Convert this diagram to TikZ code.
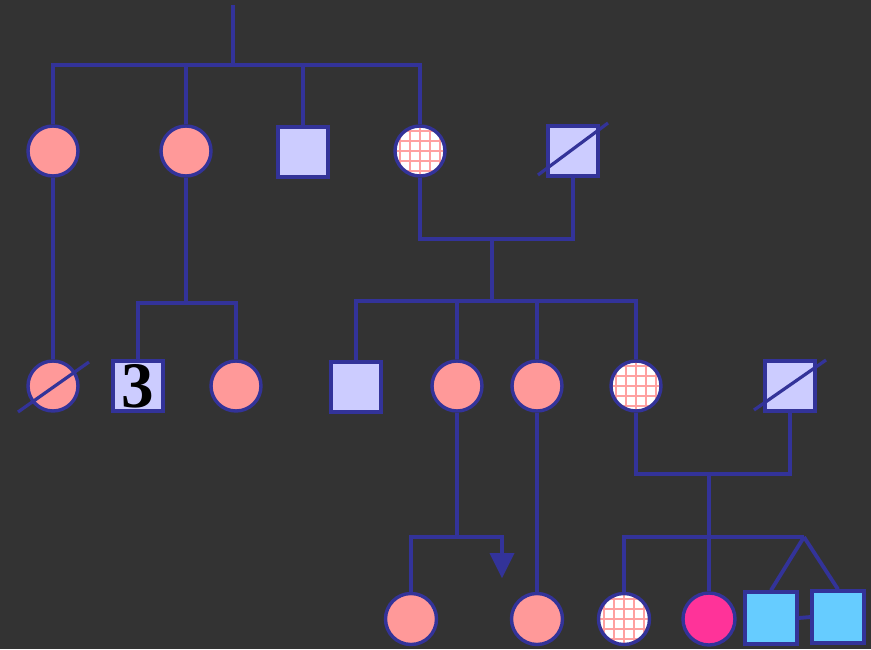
\documentclass[tikz,border=0pt]{standalone}
\usepackage{fontspec}
\setmainfont{Liberation Serif}
\usetikzlibrary{calc}
\definecolor{bg}{HTML}{333333}
\definecolor{ln}{HTML}{333399}
\definecolor{pinkf}{HTML}{FF9999}
\definecolor{lav}{HTML}{CCCCFF}
\definecolor{hot}{HTML}{FF3399}
\definecolor{sky}{HTML}{66CCFF}
\definecolor{gridc}{HTML}{FFA0A0}
\begin{document}
\begin{tikzpicture}[x=1pt,y=-1pt,
  female/.style={circle,draw=ln,line width=3.4pt,fill=pinkf,minimum size=50pt,inner sep=0pt},
  male/.style={rectangle,draw=ln,line width=3.4pt,fill=lav,minimum size=50pt,inner sep=0pt},
  hatch/.style={fill=white,path picture={\draw[gridc,line width=2.8pt]
      ($(path picture bounding box.south west)+(-3,3)$) grid[step=10pt] (path picture bounding box.north east);}},
  conn/.style={draw=ln,line width=3.8pt},
  slash/.style={draw=ln,line width=3.2pt}]
\useasboundingbox (0,0) rectangle (871,649);
\fill[bg] (0,0) rectangle (871,649);

% generation 1
\node[female] (A) at (53,151) {};
\node[female] (B) at (186,151) {};
\node[male] (C) at (303,152) {};
\node[female,hatch] (D) at (420,151) {};
\node[male] (E) at (573,151) {};

% generation 2
\node[female] (F) at (53,386) {};
\node[male,font=\fontsize{65}{65}\selectfont\bfseries] (G) at (138,386) {\raisebox{-2pt}{3}};
\node[female] (H) at (236,386) {};
\node[male] (I) at (356,387) {};
\node[female] (J) at (457,386) {};
\node[female] (K) at (537,386) {};
\node[female,hatch] (L) at (636,386) {};
\node[male] (M) at (790,386) {};

% generation 3
\node[female,minimum size=51pt] (N) at (411,619) {};
\node[female,minimum size=51pt] (O) at (537,619) {};
\node[female,hatch,minimum size=51pt] (P) at (624,619) {};
\node[female,fill=hot,minimum size=52pt] (Q) at (709,619) {};
\node[male,fill=sky,minimum size=52pt] (R) at (771,618) {};
\node[male,fill=sky,minimum size=52pt] (S) at (838,617) {};

% coordinates
\coordinate (top) at (233,5);
\coordinate (s1) at (233,65);
\coordinate (bj) at (186,303);
\coordinate (m1) at (492,239);
\coordinate (s2) at (492,301);
\coordinate (m2) at (709,474);
\coordinate (s3) at (709,537);
\coordinate (tw) at (804,537);
\coordinate (j1) at (457,537);
\coordinate (arr) at (502,553);

% connectors
\draw[conn] (top) -- (s1);
\draw[conn] (A.north) |- (s1) -| (D.north);
\draw[conn] (B.north) -- (B.north |- s1);
\draw[conn] (C.north) -- (C.north |- s1);
\draw[conn] (A.south) -- (F.north);
\draw[conn] (B.south) -- (bj);
\draw[conn] (G.north) |- (bj) -| (H.north);
\draw[conn] (D.south) |- (m1) -| (E.south);
\draw[conn] (m1) -- (s2);
\draw[conn] (I.north) |- (s2) -| (L.north);
\draw[conn] (J.north) -- (J.north |- s2);
\draw[conn] (K.north) -- (K.north |- s2);
\draw[conn] (L.south) |- (m2) -| (M.south);
\draw[conn] (m2) -- (Q.north);
\draw[conn] (P.north) |- (s3) -- (tw);
\draw[conn] (tw) -- (R.north);
\draw[conn] (tw) -- (S.north);
\draw[conn] (R.east) -- (S.west);
\draw[conn] (J.south) -- (j1);
\draw[conn] (N.north) |- (j1) -| (arr);
\draw[conn] (K.south) -- (O.north);
\fill[ln] (arr) ++(-12.5,0) -- ++(25,0) -- ++(-12.5,25) -- cycle;

% deceased slashes
\draw[slash] ($(E)+(-35,24)$) -- ($(E)+(35,-28)$);
\draw[slash] ($(F)+(-35,26)$) -- ($(F)+(36,-24)$);
\draw[slash] ($(M)+(-36,24)$) -- ($(M)+(36,-26)$);
\end{tikzpicture}
\end{document}
